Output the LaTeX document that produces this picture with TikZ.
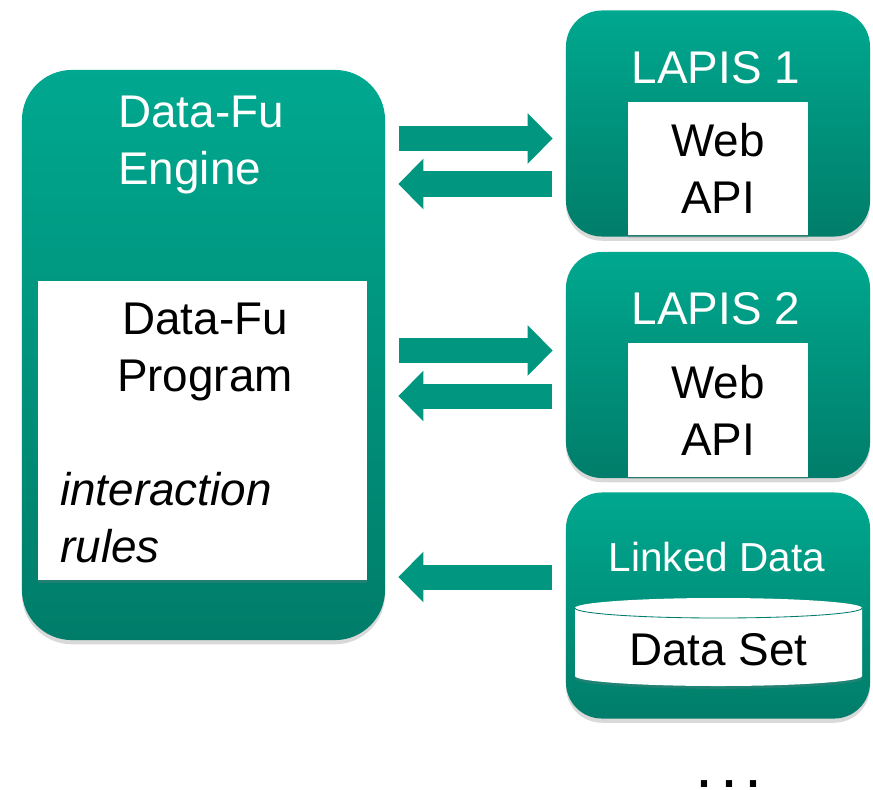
\documentclass[tikz,border=0pt]{standalone}
\usepackage{fontspec}
\setmainfont{Liberation Sans}
\usetikzlibrary{positioning,calc,arrows.meta,shadows}

\definecolor{tealtop}{HTML}{00A88F}
\definecolor{tealbot}{HTML}{007D6A}
\definecolor{arrowteal}{HTML}{00967F}
\newcommand{\bigfont}{\fontsize{32.6}{40.5}\selectfont}
\newcommand{\midfont}{\fontsize{28.8}{35}\selectfont}

\tikzset{
	tealbox/.style={top color=tealtop, bottom color=tealbot, draw=none, inner sep=0pt,
		drop shadow={opacity=0.3, shadow xshift=0pt, shadow yshift=-3pt}},
	whitebox/.style={fill=white, draw=none, inner sep=0pt,
		drop shadow={opacity=0.25, shadow xshift=0pt, shadow yshift=-2pt}},
	title/.style={text=white, font=\bigfont, inner sep=0pt},
	inner/.style={text=black, font=\bigfont, inner sep=0pt, align=center},
	fatarrow/.style={draw=arrowteal, line width=0.625cm, shorten <=0.35cm, shorten >=0.325cm,
		-{Triangle[length=0.625cm, width=1.225cm]}}
}

\begin{document}
\begin{tikzpicture}[x=0.025cm, y=-0.025cm]
	\useasboundingbox (0,0) rectangle (873,789);

	% engine side
	\node[tealbox, rounded corners=1.25cm, minimum width=9.075cm, minimum height=14.25cm] (engine) at (203.5,355) {};
	\node[title, anchor=base west, align=left] (enginetitle) at (118,184) {Data-Fu\\Engine};
	\node[whitebox, minimum width=8.225cm, minimum height=7.475cm] (program) at (202.5,430.5) {};
	\node[inner, anchor=base] (progtitle) at (205,391) {Data-Fu\\Program};
	\node[inner, anchor=base west, align=left, font=\bigfont\itshape] (rules) at (60,562) {interaction\\rules};

	% LAPIS boxes
	\node[tealbox, rounded corners=0.9cm, minimum width=7.6cm, minimum height=5.65cm] (lapis1) at (718,123.5) {};
	\node[title, anchor=base] (lapis1title) at (716,83) {LAPIS 1};
	\node[whitebox, inner, minimum width=4.5cm, minimum height=3.325cm] (api1) at (718,168.5) {Web\\API};

	\node[tealbox, rounded corners=0.9cm, minimum width=7.6cm, minimum height=5.65cm] (lapis2) at (718,365) {};
	\node[title, anchor=base] (lapis2title) at (716,324.5) {LAPIS 2};
	\node[whitebox, inner, minimum width=4.5cm, minimum height=3.325cm] (api2) at (718,410) {Web\\API};

	% linked data, with the data set drum
	\node[tealbox, rounded corners=0.9cm, minimum width=7.6cm, minimum height=5.65cm] (linked) at (718,605.5) {};
	\node[title, font=\midfont, anchor=base] (linkedtitle) at (717,571) {Linked Data};
	\path[fill=white, drop shadow={opacity=0.25, shadow xshift=0pt, shadow yshift=-2pt}]
		(575,608) -- (575,676) arc[start angle=180, end angle=360, x radius=3.5875cm, y radius=0.25cm]
		-- (862,608) arc[start angle=0, end angle=180, x radius=3.5875cm, y radius=0.25cm] -- cycle;
	\draw[tealbot, line width=0.6pt] (575,608) arc[start angle=180, end angle=360, x radius=3.5875cm, y radius=0.25cm];
	\node[inner, anchor=base] (dataset) at (718.5,665) {Data Set};

	% arrows
	\draw[fatarrow] (engine.east |- 0,138.5) -- (lapis1.west |- 0,138.5);
	\draw[fatarrow] (lapis1.west |- 0,184) -- (engine.east |- 0,184);
	\draw[fatarrow] (engine.east |- 0,350.5) -- (lapis2.west |- 0,350.5);
	\draw[fatarrow] (lapis2.west |- 0,396) -- (engine.east |- 0,396);
	\draw[fatarrow] (linked.west |- 0,577) -- (engine.east |- 0,577);

	\node[text=black, inner sep=0pt, text depth=0pt, font=\fontsize{46}{52}\selectfont, anchor=base] (more) at (729,787) {.\kern0.17cm.\kern0.17cm.};
\end{tikzpicture}
\end{document}
